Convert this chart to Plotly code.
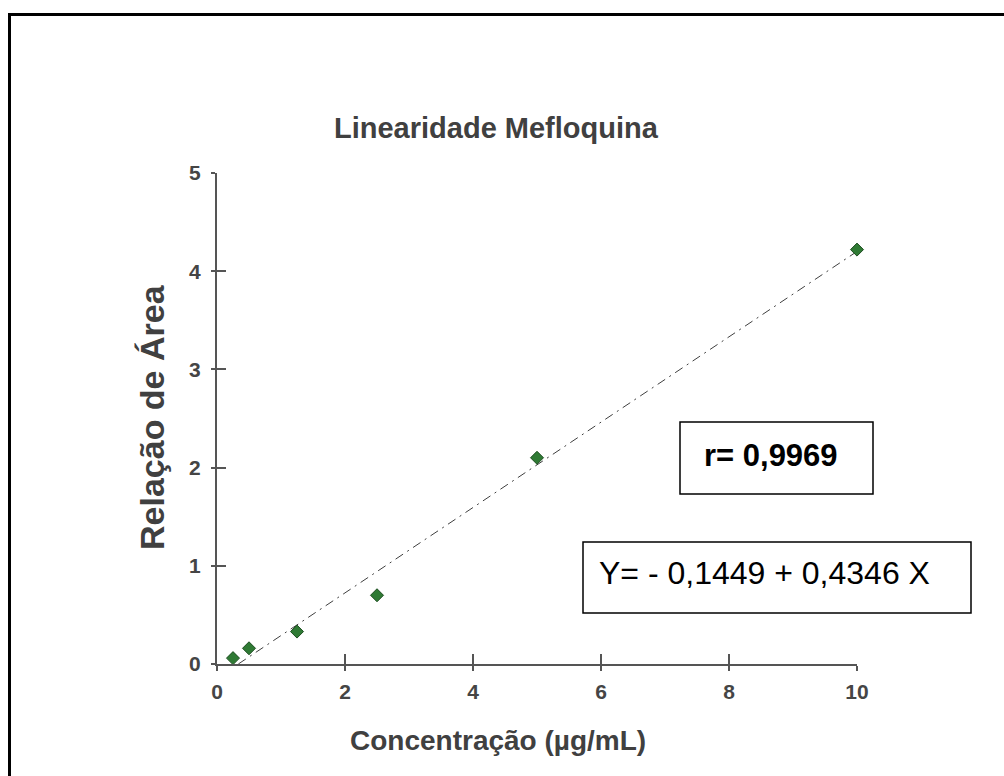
import plotly.graph_objects as go

# ---- data ----
conc = [0.25, 0.5, 1.25, 2.5, 5.0, 10.0]
area_ratio = [0.06, 0.16, 0.33, 0.70, 2.10, 4.22]
intercept = -0.1449
slope = 0.4346
fit_x = [-intercept / slope, 10.0]
fit_y = [intercept + slope * v for v in fit_x]
x_ticks = [0, 2, 4, 6, 8, 10]
y_ticks = [0, 1, 2, 3, 4, 5]

W, H = 1004, 776
L, R, T, B = 217, 857, 173, 664


def px(xp):
    return (xp - L) / (R - L)


def py(yp):
    return (B - yp) / (B - T)


fig = go.Figure()
fig.add_trace(go.Scatter(
    x=fit_x, y=fit_y, mode="lines",
    line=dict(color="#404040", width=1, dash="9px,5px,2px,5px"),
    showlegend=False, hoverinfo="skip"))
fig.add_trace(go.Scatter(
    x=conc, y=area_ratio, mode="markers",
    marker=dict(symbol="diamond", size=10, color="#2f7a34",
                line=dict(color="#1d4d20", width=1)),
    cliponaxis=False, showlegend=False))

tickfont = dict(family="Liberation Sans, Arial", size=21, color="#454545", weight=700)
axis_common = dict(showgrid=False, zeroline=False, showline=True,
                   linecolor="#555555", linewidth=2, tickcolor="#555555",
                   tickwidth=1.5)
fig.update_layout(
    width=W, height=H,
    margin=dict(l=L, r=W - R, t=T, b=H - B),
    paper_bgcolor="white", plot_bgcolor="white",
    xaxis=dict(range=[0, 10], tickvals=x_ticks, ticks="outside", ticklen=5,
               tickfont=tickfont, ticklabelstandoff=3, **axis_common),
    yaxis=dict(range=[0, 5], tickvals=y_ticks, ticks="outside", ticklen=4,
               tickfont=tickfont, ticklabelstandoff=6, **axis_common),
    xaxis2=dict(range=[0, 10], tickvals=x_ticks, ticks="inside", ticklen=10,
                showticklabels=False, overlaying="x", matches="x",
                anchor="y", side="bottom", showgrid=False, zeroline=False,
                tickcolor="#555555", tickwidth=1.5),
    yaxis2=dict(range=[0, 5], tickvals=y_ticks, ticks="inside", ticklen=9,
                showticklabels=False, overlaying="y", matches="y",
                anchor="x", side="left", showgrid=False, zeroline=False,
                tickcolor="#555555", tickwidth=1.5),
)
# dummy trace to activate overlay axes
fig.add_trace(go.Scatter(x=[None], y=[None], xaxis="x2", yaxis="y2",
                         showlegend=False, hoverinfo="skip"))

title_font = dict(family="Liberation Sans, Arial", color="#404040", weight=700)
fig.add_annotation(text="Linearidade Mefloquina", xref="paper", yref="paper",
                   x=px(496), y=py(128), xanchor="center", yanchor="middle",
                   showarrow=False, font=dict(size=29, **title_font))
fig.add_annotation(text="Concentração (µg/mL)", xref="paper", yref="paper",
                   x=px(498), y=py(740), xanchor="center", yanchor="middle",
                   showarrow=False, font=dict(size=28, **title_font))
fig.add_annotation(text="Relação de Área", xref="paper", yref="paper",
                   x=px(152), y=py(417), xanchor="center", yanchor="middle",
                   showarrow=False, textangle=-90,
                   font=dict(size=34, **title_font))

# text boxes
fig.add_shape(type="rect", xref="paper", yref="paper",
              x0=px(680), x1=px(873), y0=py(494), y1=py(422),
              line=dict(color="black", width=1.5))
fig.add_annotation(text="r= 0,9969", xref="paper", yref="paper",
                   x=px(702), y=py(455), xanchor="left", yanchor="middle",
                   showarrow=False,
                   font=dict(family="Liberation Sans, Arial", size=31,
                             color="black", weight=700))
fig.add_shape(type="rect", xref="paper", yref="paper",
              x0=px(583), x1=px(971), y0=py(613), y1=py(542),
              line=dict(color="black", width=1.5))
fig.add_annotation(text="Y= - 0,1449 + 0,4346 X", xref="paper", yref="paper",
                   x=px(597), y=py(573), xanchor="left", yanchor="middle",
                   showarrow=False,
                   font=dict(family="Liberation Sans, Arial", size=32,
                             color="black"))

# outer frame
fig.add_shape(type="rect", xref="paper", yref="paper",
              x0=px(9.5), x1=px(1015), y0=py(790), y1=py(14.5),
              line=dict(color="black", width=3))

fig.write_html("out.html")
